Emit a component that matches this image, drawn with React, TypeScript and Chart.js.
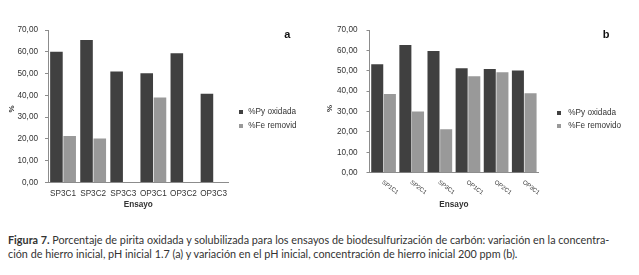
import React, { useEffect, useRef } from "react";
import { Chart, registerables } from "chart.js";

Chart.register(...registerables);

// ---- data ----
const categoriesA = ["SP3C1", "SP3C2", "SP3C3", "OP3C1", "OP3C2", "OP3C3"];
const pyOxidadaA = [60.0, 65.4, 51.0, 50.1, 59.3, 40.7];
const feRemovidoA = [21.3, 20.2, 0, 39.0, 0, 0];

const categoriesB = ["SP1C1", "SP2C1", "SP3C1", "OP1C1", "OP2C1", "OP3C1"];
const pyOxidadaB = [53.2, 62.7, 59.7, 51.2, 50.9, 50.1];
const feRemovidoB = [38.6, 30.0, 21.3, 47.3, 49.3, 39.0];

const seriesNames = ["%Py oxidada", "%Fe removido"];
const yMin = 0;
const yMax = 70;
const yStep = 10;
const xTitle = "Ensayo";
const yTitle = "%";

// ---- style ----
const FONT = '"Liberation Sans", Arial, sans-serif';
const DARK = "#404040";
const LIGHT = "#999999";
const TEXT = "#333333";
const AXIS = "#8c8c8c";

const fmt = (v: number) => Number(v).toFixed(2).replace(".", ",");

const extraText = {
  id: "extraText",
  afterDraw(chart: any, _args: any, opts: any) {
    const ctx = chart.ctx;
    ctx.save();
    ctx.fillStyle = TEXT;
    ctx.font = `bold 8px ${FONT}`;
    ctx.textAlign = "center";
    ctx.textBaseline = "middle";
    ctx.translate(opts.yTitleX, opts.yTitleY);
    ctx.rotate(-Math.PI / 2);
    ctx.fillText(yTitle, 0, 0);
    ctx.restore();
    if (opts.rotated) {
      const xs = chart.scales.x;
      const labels = chart.data.labels as string[];
      ctx.save();
      ctx.fillStyle = TEXT;
      ctx.font = `6px ${FONT}`;
      ctx.textAlign = "left";
      ctx.textBaseline = "middle";
      labels.forEach((lab, i) => {
        const px = xs.getPixelForTick(i);
        ctx.save();
        ctx.translate(px - 1, xs.top + 9);
        ctx.rotate((37 * Math.PI) / 180);
        ctx.fillText(lab, 0, 0);
        ctx.restore();
      });
      ctx.restore();
    }
  },
};

type PanelProps = {
  labels: string[];
  py: number[];
  fe: number[];
  left: number;
  width: number;
  height: number;
  plotLeft: number;
  plotRight: number;
  plotTop: number;
  plotBottom: number;
  rotated: boolean;
  yTickPad: number;
  yTitleX: number;
  yTitleY: number;
  catPct: number;
  barPct: number;
};

function BarPanel(p: PanelProps) {
  const ref = useRef<HTMLCanvasElement | null>(null);
  useEffect(() => {
    if (!ref.current) return;
    const chart = new Chart(ref.current, {
      type: "bar",
      data: {
        labels: p.labels,
        datasets: [
          {
            label: seriesNames[0],
            data: p.py,
            backgroundColor: DARK,
            borderWidth: 0,
            categoryPercentage: p.catPct,
            barPercentage: p.barPct,
          },
          {
            label: seriesNames[1],
            data: p.fe,
            backgroundColor: LIGHT,
            borderWidth: 0,
            categoryPercentage: p.catPct,
            barPercentage: p.barPct,
          },
        ],
      },
      options: {
        responsive: false,
        animation: false,
        events: [],
        layout: {
          padding: {
            left: 0,
            top: p.plotTop,
            right: p.width - p.plotRight,
            bottom: 0,
          },
        },
        plugins: {
          legend: { display: false },
          tooltip: { enabled: false },
          extraText: {
            yTitleX: p.yTitleX,
            yTitleY: p.yTitleY,
            rotated: p.rotated,
          },
        } as any,
        scales: {
          x: {
            afterFit: (s: any) => {
              s.height = p.height - p.plotBottom;
            },
            grid: { display: false, drawTicks: false },
            border: { display: true, color: AXIS, width: 1 },
            ticks: {
              display: !p.rotated,
              color: TEXT,
              font: { family: FONT, size: 8.2 },
              padding: 6,
              maxRotation: 0,
              minRotation: 0,
              autoSkip: false,
            },
            title: {
              display: true,
              text: xTitle,
              color: TEXT,
              font: { family: FONT, size: 8.2, weight: "bold" },
              padding: { top: 0, bottom: 5.2 },
            },
          },
          y: {
            min: yMin,
            max: yMax,
            afterFit: (s: any) => {
              s.width = p.plotLeft;
            },
            grid: {
              drawOnChartArea: false,
              drawTicks: true,
              tickLength: 3,
              color: AXIS,
            },
            border: { display: true, color: AXIS, width: 1 },
            ticks: {
              stepSize: yStep,
              color: TEXT,
              font: { family: FONT, size: 8.2 },
              padding: p.yTickPad,
              callback: (v: any) => fmt(v),
            },
          },
        },
      },
      plugins: [extraText as any],
    });
    return () => chart.destroy();
  }, []);
  return (
    <canvas
      ref={ref}
      width={p.width}
      height={p.height}
      style={{ position: "absolute", left: p.left, top: 0, width: p.width, height: p.height, display: "block" }}
    />
  );
}

type LegendProps = {
  squareX: number;
  textX: number;
  ys: number[];
  clipWidth?: number;
};

function Legend({ squareX, textX, ys, clipWidth }: LegendProps) {
  const colors = [DARK, LIGHT];
  return (
    <>
      {seriesNames.map((name, i) => (
        <React.Fragment key={name}>
          <div
            style={{
              position: "absolute",
              left: squareX,
              top: ys[i] - 2,
              width: 4,
              height: 4,
              background: colors[i],
            }}
          />
          <div
            style={{
              position: "absolute",
              left: textX,
              top: ys[i] - 6,
              height: 12,
              lineHeight: "12px",
              fontFamily: FONT,
              fontSize: 8.2,
              color: TEXT,
              whiteSpace: "nowrap",
              overflow: "hidden",
              width: clipWidth ?? 80,
            }}
          >
            {name}
          </div>
        </React.Fragment>
      ))}
    </>
  );
}

export default function App() {
  const panelLetter = (txt: string, cx: number) => (
    <div
      style={{
        position: "absolute",
        left: cx - 10,
        top: 27,
        width: 20,
        textAlign: "center",
        fontFamily: FONT,
        fontWeight: "bold",
        fontSize: 11,
        lineHeight: "14px",
        color: "#111",
      }}
    >
      {txt}
    </div>
  );
  return (
    <div
      style={{
        position: "absolute",
        left: 0,
        top: 0,
        width: 639,
        height: 275,
        background: "#ffffff",
        overflow: "hidden",
      }}
    >
      <BarPanel
        labels={categoriesA}
        py={pyOxidadaA}
        fe={feRemovidoA}
        left={0}
        width={300}
        height={215}
        plotLeft={48}
        plotRight={228.6}
        plotTop={30}
        plotBottom={182.5}
        rotated={false}
        yTickPad={7}
        yTitleX={11.3}
        yTitleY={109}
        catPct={0.88}
        barPct={0.95}
      />
      <BarPanel
        labels={categoriesB}
        py={pyOxidadaB}
        fe={feRemovidoB}
        left={320}
        width={240}
        height={215}
        plotLeft={49.5}
        plotRight={218.3}
        plotTop={30}
        plotBottom={172.7}
        rotated={true}
        yTickPad={9}
        yTitleX={10}
        yTitleY={108.5}
        catPct={0.9}
        barPct={0.95}
      />
      <Legend squareX={239.3} textX={248.3} ys={[112.3, 126]} clipWidth={47.5} />
      <Legend squareX={557.3} textX={568.3} ys={[113.3, 125.7]} />
      {panelLetter("a", 287.4)}
      {panelLetter("b", 606)}
      <div
        style={{
          position: "absolute",
          left: 8,
          top: 233,
          fontFamily: "Lato, 'Open Sans', sans-serif",
          fontSize: 10.8,
          lineHeight: "13.5px",
          color: "#333",
          whiteSpace: "nowrap",
        }}
      >
        <div>
          <b>Figura 7.</b> Porcentaje de pirita oxidada y solubilizada para los ensayos de biodesulfurización de carbón: variación en la concentra-
        </div>
        <div>
          ción de hierro inicial, pH inicial 1.7 (a) y variación en el pH inicial, concentración de hierro inicial 200 ppm (b).
        </div>
      </div>
    </div>
  );
}
